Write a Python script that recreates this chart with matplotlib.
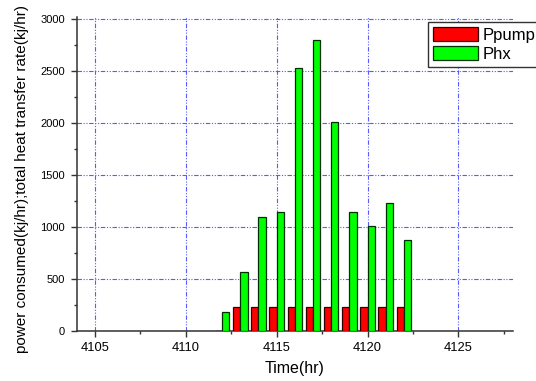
import numpy as np
import matplotlib
matplotlib.use("Agg")
import matplotlib.pyplot as plt
from matplotlib.ticker import MultipleLocator

plt.rcParams["font.family"] = ["Liberation Sans", "DejaVu Sans"]

# hourly results
hours = np.arange(4112, 4123)
p_pump = [0, 227, 227, 227, 227, 227, 227, 227, 227, 227, 227]
p_hx = [179, 563, 1089, 1141, 2525, 2794, 2010, 1137, 1010, 1224, 868]

fig = plt.figure(figsize=(5.36, 3.81), dpi=100)
ax = fig.add_axes([0.143, 0.1325, 0.814, 0.822])

w = 0.4
ax.bar(hours - w / 2, p_pump, width=w, color="#ff0000", edgecolor="#300000",
       linewidth=0.9, label="Ppump", zorder=3)
ax.bar(hours + w / 2, p_hx, width=w, color="#00ff00", edgecolor="#003000",
       linewidth=0.9, label="Phx", zorder=3)

ax.set_xlim(4104, 4128)
ax.set_ylim(0, 3015)
ax.xaxis.set_major_locator(MultipleLocator(5))
ax.xaxis.set_minor_locator(MultipleLocator(2.5))
ax.yaxis.set_major_locator(MultipleLocator(500))
ax.yaxis.set_minor_locator(MultipleLocator(250))

ax.spines["top"].set_visible(False)
ax.spines["right"].set_visible(False)
for s in ("left", "bottom"):
    ax.spines[s].set_linewidth(1.1)
    ax.spines[s].set_color("#333333")
ax.tick_params(which="major", length=4.5, width=1.0, color="#333333")
ax.tick_params(which="minor", length=2.5, width=1.0, color="#333333")
ax.tick_params(axis="x", labelsize=9.3)
ax.tick_params(axis="y", labelsize=8, pad=4)

# dash-dot-dot grid in blue
dashdotdot = (0, (4, 1.5, 1, 1.5, 1, 1.5))
ax.set_axisbelow(True)
ax.xaxis.grid(True, which="major", color="#5a5aff", linestyle=dashdotdot, linewidth=0.8)
ax.yaxis.grid(True, which="major", color="#5a5aff", linestyle=dashdotdot, linewidth=0.8)

ax.set_xlabel("Time(hr)", fontsize=11.5, labelpad=5)
ax.set_ylabel("power consumed(kj/hr);total heat transfer rate(kj/hr)", fontsize=11.0)
ax.yaxis.set_label_coords(0.055, 0.53, transform=fig.transFigure)

leg = ax.legend(loc="upper left", bbox_to_anchor=(0.7985, 0.9423),
                bbox_transform=fig.transFigure, fontsize=12, frameon=True,
                fancybox=False, shadow=False, handlelength=2.7, handleheight=0.9,
                handletextpad=0.3, borderpad=0.3, labelspacing=0.2,
                borderaxespad=0)
leg.get_frame().set_edgecolor("#333333")
leg.get_frame().set_linewidth(1.0)
leg.get_frame().set_alpha(1)

fig.savefig("out.png", dpi=100)
